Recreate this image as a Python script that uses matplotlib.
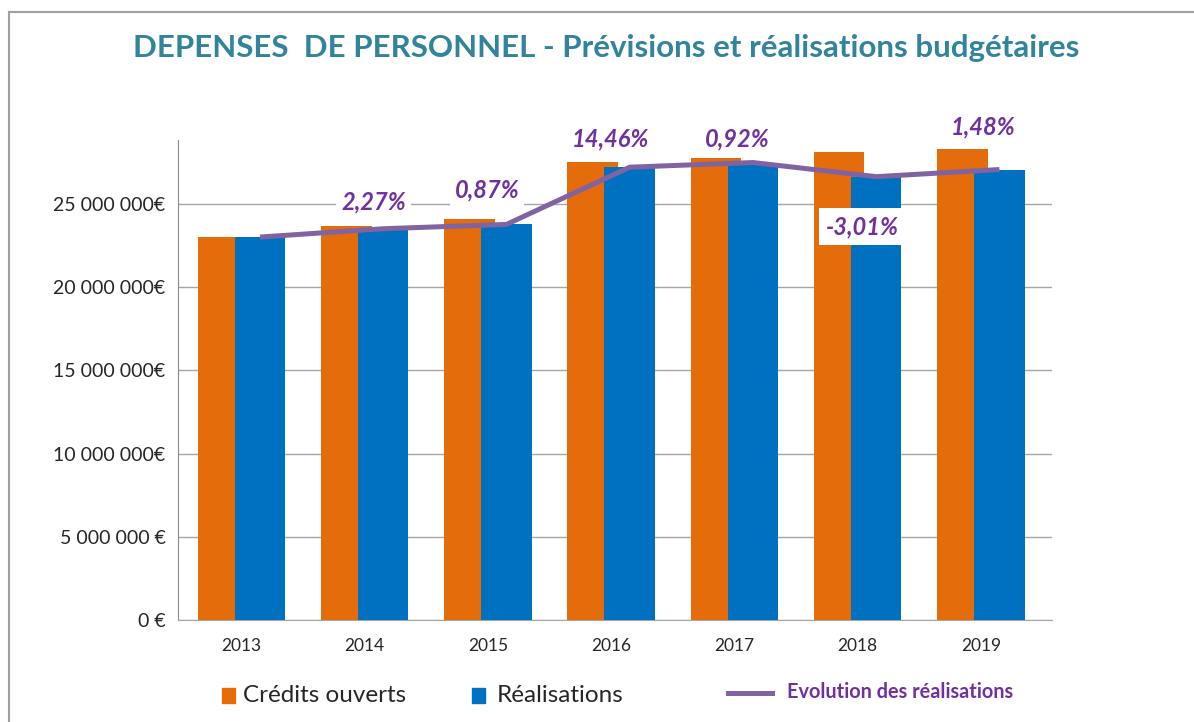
import numpy as np
import matplotlib
matplotlib.use("Agg")
import matplotlib.pyplot as plt
from matplotlib.patches import Rectangle
from matplotlib.lines import Line2D

plt.rcParams['font.family'] = ['Lato', 'DejaVu Sans']

years = ['2013', '2014', '2015', '2016', '2017', '2018', '2019']
credits = [23.02e6, 23.68e6, 24.10e6, 27.52e6, 27.76e6, 28.12e6, 28.30e6]
realisations = [23.02e6, 23.52e6, 23.78e6, 27.22e6, 27.50e6, 26.65e6, 27.08e6]
evolution = ['', '2,27%', '0,87%', '14,46%', '0,92%', '-3,01%', '1,48%']
ytick_values = [0, 5e6, 10e6, 15e6, 20e6, 25e6]
ytick_labels = ['0 €', '5 000 000 €', '10 000 000€', '15 000 000€', '20 000 000€', '25 000 000€']

# label offsets (points) from the line point
label_dx = [0, -7, -14, -14, -11, -10, -12]
label_dy = [0, 19, 25, 20, 17, -36, 31]
label_pad = [0.2, 0.2, 0.2, 0.2, 0.2, 0.3, 0.2]

orange = '#E46C0A'
blue = '#0070C0'
purple_line = '#8064A2'
purple_txt = '#7030A0'
teal = '#31849B'

fig = plt.figure(figsize=(11.94, 7.22), dpi=100)
ax = fig.add_axes([0.1491, 0.1413, 0.7319, 0.6647])

x = np.arange(len(years))
w = 0.41
ax.bar(x - 0.15, credits, w, color=orange, zorder=2)
ax.bar(x + 0.15, realisations, w, color=blue, zorder=3)
ax.plot(x + 0.15, realisations, color=purple_line, lw=3.6, zorder=4,
        solid_capstyle='butt')

for i, lab in enumerate(evolution):
    if not lab:
        continue
    ax.annotate(lab, (x[i] + 0.15, realisations[i]),
                xytext=(label_dx[i], label_dy[i]), textcoords='offset points',
                ha='center', va='center', fontsize=17, fontweight='bold',
                fontstyle='italic', color=purple_txt, zorder=5,
                bbox=dict(boxstyle='square,pad=%.2f' % label_pad[i], fc='white', ec='none'))

ax.set_xlim(-0.515, 6.576)
ax.set_ylim(0, 28.85e6)
ax.set_xticks(x)
ax.set_xticklabels(years, fontsize=12.5, color='#262626')
ax.set_yticks(ytick_values)
ax.set_yticklabels(ytick_labels, fontsize=14, color='#262626')
ax.tick_params(axis='x', length=0, pad=13)
ax.tick_params(axis='y', length=0, pad=9)
ax.grid(axis='y', color='#A6A6A6', lw=1, zorder=0)
ax.set_axisbelow(True)
for s in ['top', 'right']:
    ax.spines[s].set_visible(False)
ax.spines['left'].set_color('#8C8C8C')
ax.spines['bottom'].set_color('#A6A6A6')

fig.text(0.508, 0.9335, 'DEPENSES  DE PERSONNEL - Prévisions et réalisations budgétaires',
         ha='center', va='center', fontsize=22.5, fontweight='bold', color=teal)

# legend drawn by hand
fig.patches.append(Rectangle((222 / 1194, 19 / 722), 13 / 1194, 15 / 722,
                             transform=fig.transFigure, color=orange))
fig.text(243 / 1194, 27 / 722, 'Crédits ouverts', ha='left', va='center',
         fontsize=17.5, color='#262626')
fig.patches.append(Rectangle((472 / 1194, 19 / 722), 13 / 1194, 15 / 722,
                             transform=fig.transFigure, color=blue))
fig.text(497 / 1194, 27 / 722, 'Réalisations', ha='left', va='center',
         fontsize=17.5, color='#262626')
fig.lines.append(Line2D([728 / 1194, 772 / 1194], [29 / 722, 29 / 722],
                        transform=fig.transFigure, color=purple_line, lw=3.6))
fig.text(787 / 1194, 30 / 722, 'Evolution des réalisations', ha='left', va='center',
         fontsize=14.3, fontweight='bold', color=purple_txt)

# outer frame
fig.lines.append(Line2D([9 / 1194, 1], [710 / 722, 710 / 722],
                        transform=fig.transFigure, color='#A0A0A0', lw=1.5))
fig.lines.append(Line2D([9 / 1194, 9 / 1194], [0, 710 / 722],
                        transform=fig.transFigure, color='#A0A0A0', lw=1.5))

fig.savefig('out.png', dpi=100)
